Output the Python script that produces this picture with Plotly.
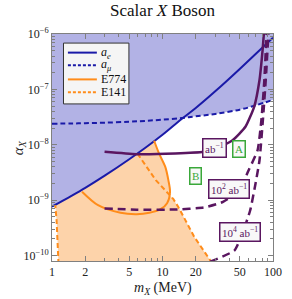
import plotly.graph_objects as go

# ---------------- data ----------------
# g-2 bounds on a common mass grid (MeV)
mx_g2 = [1, 1.5, 2, 3, 5, 7, 10, 15, 20, 30, 50, 70, 100]
alpha_ae = [7.6e-10, 1.19e-9, 1.66e-9, 2.76e-9, 5.47e-9, 8.8e-9, 1.51e-8,
            2.95e-8, 4.6e-8, 9.2e-8, 2.33e-7, 4.4e-7, 8.6e-7]
alpha_amu = [2.4e-8, 2.42e-8, 2.45e-8, 2.5e-8, 2.6e-8, 2.7e-8, 2.84e-8,
             3.04e-8, 3.26e-8, 3.6e-8, 4.3e-8, 5.15e-8, 6.46e-8]

# E774 beam dump contour
mx_e774 = [1.87, 2.61, 4.17, 5.83, 7.6, 9.6, 11.0, 11.7, 11.3, 10.6, 9.3, 8.4]
alpha_e774 = [1.42e-9, 8.09e-10, 5.89e-10, 5.56e-10, 5.89e-10, 6.84e-10,
              8.79e-10, 1.41e-9, 2.29e-9, 3.98e-9, 6.97e-9, 1.18e-8]

# E141 beam dump: left and right branches
mx_e141_left = [1.145, 1.127, 1.10, 1.07]
alpha_e141_left = [7.0e-11, 1.53e-10, 4.37e-10, 8.15e-10]
mx_e141_right = [5.94, 8.7, 12.5, 13.9, 19.4, 27.0, 27.6]
alpha_e141_right = [6.9e-9, 2.29e-9, 1.05e-9, 7.53e-10, 2.16e-10, 8.2e-11, 7.0e-11]

# projected reach, 1 ab^-1 (solid), 10^2 and 10^4 ab^-1 (dashed)
mx_1ab = [2.99, 5.83, 13.0, 23.6, 30.7, 43.1, 56.3, 67.5, 75.5, 80.5, 82.8]
alpha_1ab = [7.45e-9, 6.76e-9, 6.97e-9, 7.5e-9, 8.57e-9, 1.21e-8, 2.11e-8,
             4.85e-8, 1.48e-7, 5.13e-7, 1.05e-6]
mx_100ab = [2.99, 5.83, 13.0, 23.6, 35.3, 49.5, 60.2, 72.5, 78.5, 83.5, 87.5]
alpha_100ab = [7.05e-10, 6.71e-10, 6.76e-10, 7.35e-10, 9.27e-10, 1.51e-9,
               3.47e-9, 7.94e-9, 2.79e-8, 1.48e-7, 1.05e-6]
mx_1e4ab = [27.0, 44.9, 52.7, 62.2, 69.5, 75.5, 81.0, 86.0, 91.0]
alpha_1e4ab = [7.7e-11, 1.24e-10, 2.49e-10, 6.56e-10, 2.0e-9, 5.25e-9,
               2.79e-8, 1.48e-7, 1.05e-6]

x_ticks = [1, 2, 5, 10, 20, 50, 100]
x_ticktext = ["1", "2", "5", "10", "20", "50", "100"]
y_ticks = [1e-10, 1e-9, 1e-8, 1e-7, 1e-6]
y_ticktext = ["10<sup>−10</sup>", "10<sup>−9</sup>", "10<sup>−8</sup>",
              "10<sup>−7</sup>", "10<sup>−6</sup>"]
x_minor = [3, 4, 6, 7, 8, 9, 30, 40, 60, 70, 80, 90]
y_minor = [m * 10.0 ** e for e in range(-10, -6) for m in range(2, 10)]

legend_names = ["<i>a</i><sub><i>e</i></sub>", "<i>a</i><sub><i>μ</i></sub>", "E774", "E141"]

# ---------------- styles ----------------
BLUE = "#1a1aa8"
BLUE_FILL = "rgb(178,178,229)"
ORANGE = "#ff8c1a"
ORANGE_FILL = "rgb(253,211,170)"
PURPLE = "#5a1660"
GREEN = "#3aa83a"
SERIF = "Liberation Serif"
TOP = 2e-6
BOTTOM = 5e-11
DASH_BLUE = "5px,3px"
DASH_PURPLE = "8px,5px"

fig = go.Figure()

# --- fills ---
ae_seg = [(x, y) for x, y in zip(mx_g2, alpha_ae) if mx_e141_left[-1] < x < mx_e141_right[0]]
fx = mx_e141_left + [p[0] for p in ae_seg] + mx_e141_right
fy = alpha_e141_left + [p[1] for p in ae_seg] + alpha_e141_right
fig.add_trace(go.Scatter(x=fx + [mx_e141_right[-1], mx_e141_left[0]],
                         y=fy + [BOTTOM, BOTTOM], fill="toself", mode="none",
                         fillcolor=ORANGE_FILL, showlegend=False, hoverinfo="skip"))
ae_back = [(x, y) for x, y in zip(mx_g2, alpha_ae) if mx_e774[0] < x < mx_e774[-1]][::-1]
fig.add_trace(go.Scatter(x=mx_e774 + [p[0] for p in ae_back],
                         y=alpha_e774 + [p[1] for p in ae_back], fill="toself",
                         mode="none", fillcolor=ORANGE_FILL, showlegend=False,
                         hoverinfo="skip"))
for ys in (alpha_ae, alpha_amu):
    fig.add_trace(go.Scatter(x=mx_g2 + [mx_g2[-1], mx_g2[0]], y=ys + [TOP, TOP],
                             fill="toself", mode="none", fillcolor=BLUE_FILL,
                             showlegend=False, hoverinfo="skip"))

# --- lines ---
fig.add_trace(go.Scatter(x=mx_g2, y=alpha_amu, mode="lines", showlegend=False,
                         line=dict(color=BLUE, width=2, dash=DASH_BLUE, shape="spline")))
fig.add_trace(go.Scatter(x=mx_g2, y=alpha_ae, mode="lines", showlegend=False,
                         line=dict(color=BLUE, width=2, shape="spline")))
fig.add_trace(go.Scatter(x=mx_e141_left, y=alpha_e141_left, mode="lines", showlegend=False,
                         line=dict(color=ORANGE, width=2, dash=DASH_BLUE)))
fig.add_trace(go.Scatter(x=mx_e141_right, y=alpha_e141_right, mode="lines", showlegend=False,
                         line=dict(color=ORANGE, width=2, dash=DASH_BLUE)))
fig.add_trace(go.Scatter(x=mx_e774, y=alpha_e774, mode="lines", showlegend=False,
                         line=dict(color=ORANGE, width=2, shape="spline", smoothing=0.8)))
fig.add_trace(go.Scatter(x=mx_1ab, y=alpha_1ab, mode="lines", showlegend=False,
                         line=dict(color=PURPLE, width=2.5, shape="spline", smoothing=0.5)))
fig.add_trace(go.Scatter(x=mx_100ab, y=alpha_100ab, mode="lines", showlegend=False,
                         line=dict(color=PURPLE, width=2.5, dash=DASH_PURPLE,
                                   shape="spline", smoothing=0.5)))
fig.add_trace(go.Scatter(x=mx_1e4ab, y=alpha_1e4ab, mode="lines", showlegend=False,
                         line=dict(color=PURPLE, width=2.5, dash=DASH_PURPLE,
                                   shape="spline", smoothing=0.5)))

# --- in-plot labels ---
def box(text, lx, ly, color):
    fig.add_annotation(x=lx, y=ly, xref="x", yref="y", text=text, showarrow=False,
                       font=dict(family=SERIF, size=11, color=color),
                       bgcolor="#f8f8f8", bordercolor=color, borderwidth=1.5, borderpad=1.5)

box("ab<sup>−1</sup>", 1.474, -8.06, PURPLE)
box("A", 1.696, -8.07, GREEN)
box("B", 1.298, -8.573, GREEN)
box("10<sup>2</sup> ab<sup>−1</sup>", 1.603, -8.797, PURPLE)
box("10<sup>4</sup> ab<sup>−1</sup>", 1.698, -9.58, PURPLE)

# --- legend (compact, drawn in paper coordinates) ---
fig.add_shape(type="rect", xref="paper", yref="paper", x0=0.052, x1=0.348,
              y0=0.692, y1=0.960, fillcolor="#f5f5f5", line=dict(color="#333", width=1))
leg_styles = [(BLUE, None), (BLUE, "3px,2px"), (ORANGE, None), (ORANGE, "3px,2px")]
leg_rows = [0.918, 0.862, 0.800, 0.743]
for name, (col, dsh), ry in zip(legend_names, leg_styles, leg_rows):
    ln = dict(color=col, width=2)
    if dsh:
        ln["dash"] = dsh
    fig.add_shape(type="line", xref="paper", yref="paper", x0=0.072, x1=0.203,
                  y0=ry, y1=ry, line=ln)
    fig.add_annotation(x=0.213, y=ry, xref="paper", yref="paper", text=name,
                       showarrow=False, xanchor="left", yanchor="middle",
                       font=dict(family=SERIF, size=12, color="#111"))

# --- axis titles ---
fig.add_annotation(x=0.5, y=-0.123, xref="paper", yref="paper", showarrow=False,
                   text="<i>m</i><sub><i>X</i></sub> (MeV)", yanchor="middle",
                   font=dict(family=SERIF, size=14, color="#222"))
fig.add_annotation(x=-0.20, y=0.5, xref="paper", yref="paper", showarrow=False,
                   text="<i>α</i><sub><i>X</i></sub>", textangle=-90,
                   font=dict(family=SERIF, size=15, color="#222"))

axis_common = dict(type="log", showgrid=False, zeroline=False, showline=True,
                   linecolor="#808080", linewidth=1, mirror="allticks",
                   ticks="inside", ticklen=5, tickcolor="#808080",
                   tickfont=dict(family=SERIF, size=12, color="#222"))

fig.update_xaxes(range=[0, 2], tickvals=x_ticks, ticktext=x_ticktext,
                 minor=dict(tickvals=x_minor, ticks="inside", ticklen=3, tickcolor="#808080"),
                 **axis_common)
fig.update_yaxes(range=[-10.1, -6], tickvals=y_ticks, ticktext=y_ticktext,
                 minor=dict(tickvals=y_minor, ticks="inside", ticklen=3, tickcolor="#808080"),
                 **axis_common)

fig.update_layout(
    width=292, height=299,
    margin=dict(l=52, r=10, t=34, b=38),
    paper_bgcolor="white", plot_bgcolor="white",
    title=dict(text="Scalar <i>X</i> Boson", x=0.5, xref="paper", y=0.967,
               yanchor="middle", font=dict(family=SERIF, size=17, color="#111")),
    showlegend=False,
)

fig.write_html("out.html", config={"displayModeBar": False},
               post_script="document.body.style.margin='0';document.body.style.padding='0';")
